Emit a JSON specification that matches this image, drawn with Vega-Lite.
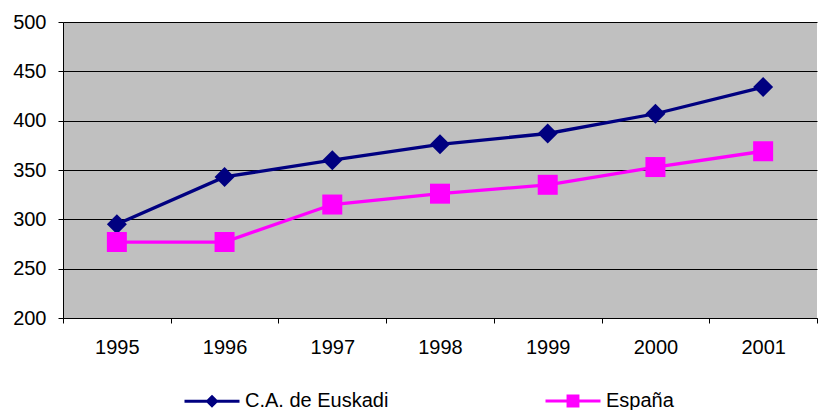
{
  "$schema": "https://vega.github.io/schema/vega-lite/v6.json",
  "width": 754,
  "height": 296,
  "autosize": {"type": "none"},
  "padding": {"left": 63, "top": 22, "right": 1, "bottom": 92},
  "background": "white",
  "data": {
    "values": [
      {"year": "1995", "serie": "C.A. de Euskadi", "value": 295},
      {"year": "1996", "serie": "C.A. de Euskadi", "value": 343},
      {"year": "1997", "serie": "C.A. de Euskadi", "value": 360},
      {"year": "1998", "serie": "C.A. de Euskadi", "value": 376},
      {"year": "1999", "serie": "C.A. de Euskadi", "value": 387},
      {"year": "2000", "serie": "C.A. de Euskadi", "value": 407},
      {"year": "2001", "serie": "C.A. de Euskadi", "value": 434},
      {"year": "1995", "serie": "España", "value": 277},
      {"year": "1996", "serie": "España", "value": 277},
      {"year": "1997", "serie": "España", "value": 315},
      {"year": "1998", "serie": "España", "value": 326},
      {"year": "1999", "serie": "España", "value": 335},
      {"year": "2000", "serie": "España", "value": 353},
      {"year": "2001", "serie": "España", "value": 369}
    ]
  },
  "encoding": {
    "x": {
      "field": "year",
      "type": "ordinal",
      "scale": {"paddingInner": 0, "paddingOuter": 0},
      "axis": {
        "title": null,
        "labelAngle": 0,
        "tickBand": "extent",
        "tickSize": 5,
        "labelPadding": 14,
        "domainColor": "#000000",
        "tickColor": "#000000",
        "grid": false
      }
    },
    "y": {
      "field": "value",
      "type": "quantitative",
      "scale": {"domain": [200, 500], "nice": false, "zero": false},
      "axis": {
        "title": null,
        "values": [200, 250, 300, 350, 400, 450, 500],
        "tickSize": 5,
        "labelPadding": 12,
        "domainColor": "#000000",
        "tickColor": "#000000",
        "grid": true,
        "gridColor": "#000000",
        "gridWidth": 1
      }
    },
    "color": {
      "field": "serie",
      "type": "nominal",
      "scale": {"domain": ["C.A. de Euskadi", "España"], "range": ["#000080", "#FF00FF"]},
      "legend": {
        "title": null,
        "orient": "none",
        "direction": "horizontal",
        "columns": 2,
        "legendX": 120,
        "legendY": 350,
        "padding": 0,
        "columnPadding": 150,
        "symbolSize": 3025,
        "symbolStrokeWidth": 3,
        "symbolType": "M-1,0H1M0,-0.16L0.16,0L0,0.16L-0.16,0Z",
        "labelOffset": 4,
        "labelFontSize": 20,
        "labelFont": "Liberation Sans",
        "labelColor": "#000000",
        "encode": {
          "symbols": {
            "update": {
              "shape": [
                {"test": "datum.value === 'España'", "value": "M-1,0H1M-0.18,-0.18H0.18V0.18H-0.18Z"},
                {"value": "M-1,0H1M0,-0.16L0.16,0L0,0.16L-0.16,0Z"}
              ],
              "fill": {"scale": "color", "field": "value"},
              "stroke": {"scale": "color", "field": "value"},
              "fillOpacity": {"value": 1},
              "strokeWidth": {"value": 3}
            }
          }
        }
      }
    }
  },
  "layer": [
    {
      "mark": {"type": "line", "strokeWidth": 3.3},
      "encoding": {}
    },
    {
      "transform": [{"filter": "datum.serie === 'C.A. de Euskadi'"}],
      "mark": {"type": "point", "filled": true, "opacity": 1, "size": 400, "shape": "diamond"},
      "encoding": {}
    },
    {
      "transform": [{"filter": "datum.serie === 'España'"}],
      "mark": {"type": "point", "filled": true, "opacity": 1, "size": 400, "shape": "square"},
      "encoding": {}
    }
  ],
  "config": {
    "view": {"fill": "#C0C0C0", "stroke": null},
    "axis": {
      "labelFont": "Liberation Sans",
      "labelFontSize": 20,
      "labelColor": "#000000",
      "domainWidth": 1
    }
  }
}
